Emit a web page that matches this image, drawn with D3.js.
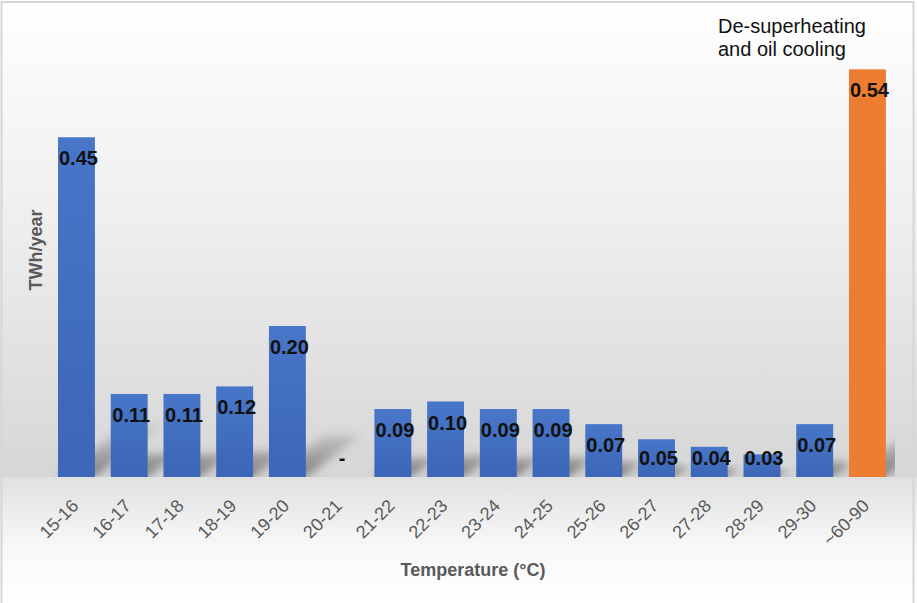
<!DOCTYPE html>
<html>
<head>
<meta charset="utf-8">
<script src="https://cdn.jsdelivr.net/npm/d3@7"></script>
<style>
  html, body { margin: 0; padding: 0; background: #ffffff; }
  svg { display: block; font-family: "Liberation Sans", Arial, sans-serif; }
</style>
</head>
<body>
<svg id="chart" width="917" height="603"></svg>
<script>
// Temperature bands (°C) and annual heat available (TWh/year)
const categories = ["15-16", "16-17", "17-18", "18-19", "19-20", "20-21", "21-22", "22-23",
                    "23-24", "24-25", "25-26", "26-27", "27-28", "28-29", "29-30", "~60-90"];
const values = [0.45, 0.11, 0.11, 0.12, 0.20, 0, 0.09, 0.10,
                0.09, 0.09, 0.07, 0.05, 0.04, 0.03, 0.07, 0.54];
const valueLabels = ["0.45", "0.11", "0.11", "0.12", "0.20", "-", "0.09", "0.10",
                     "0.09", "0.09", "0.07", "0.05", "0.04", "0.03", "0.07", "0.54"];
const highlighted = ["~60-90"];
const yTitle = "TWh/year";
const xTitle = "Temperature (°C)";
const noteLines = ["De-superheating", "and oil cooling"];

const W = 917, H = 603;
const baseY = 477;
const plotRight = 895;
const svg = d3.select("#chart");
const defs = svg.append("defs");

// Background: light fading to grey at the floor, then back to white below
const bgTop = defs.append("linearGradient").attr("id", "bgTop")
  .attr("x1", 0).attr("y1", 0).attr("x2", 0).attr("y2", 1);
bgTop.append("stop").attr("offset", "0%").attr("stop-color", "#ffffff");
bgTop.append("stop").attr("offset", "45%").attr("stop-color", "#efefef");
bgTop.append("stop").attr("offset", "100%").attr("stop-color", "#d6d6d6");

const bgBottom = defs.append("linearGradient").attr("id", "bgBottom")
  .attr("x1", 0).attr("y1", 0).attr("x2", 0).attr("y2", 1);
bgBottom.append("stop").attr("offset", "0%").attr("stop-color", "#e0e0e0");
bgBottom.append("stop").attr("offset", "55%").attr("stop-color", "#f8f8f8");
bgBottom.append("stop").attr("offset", "100%").attr("stop-color", "#ffffff");

const barGrad = defs.append("linearGradient").attr("id", "barBlue")
  .attr("x1", 0).attr("y1", 0).attr("x2", 0).attr("y2", 1);
barGrad.append("stop").attr("offset", "0%").attr("stop-color", "#4876c8");
barGrad.append("stop").attr("offset", "100%").attr("stop-color", "#3c66b7");

// Shadow fades out over a fixed height above the floor
const shadowGrad = defs.append("linearGradient").attr("id", "shadowFade")
  .attr("gradientUnits", "userSpaceOnUse")
  .attr("x1", 0).attr("y1", baseY).attr("x2", 0).attr("y2", baseY - 60);
shadowGrad.append("stop").attr("offset", "0%").attr("stop-color", "#555555").attr("stop-opacity", 0.7);
shadowGrad.append("stop").attr("offset", "100%").attr("stop-color", "#777777").attr("stop-opacity", 0);

defs.append("filter").attr("id", "soft")
  .attr("x", "-50%").attr("y", "-50%").attr("width", "200%").attr("height", "200%")
  .append("feGaussianBlur").attr("stdDeviation", 4);

defs.append("clipPath").attr("id", "plotClip")
  .append("rect").attr("x", 40).attr("y", 10).attr("width", plotRight - 40).attr("height", baseY - 10);

svg.append("rect").attr("x", 0).attr("y", 0).attr("width", W).attr("height", baseY)
  .attr("fill", "url(#bgTop)");
svg.append("rect").attr("x", 0).attr("y", baseY).attr("width", W).attr("height", H - baseY)
  .attr("fill", "url(#bgBottom)");

// Chart frame
svg.append("rect").attr("x", 1.5).attr("y", 2).attr("width", 912).attr("height", 610)
  .attr("fill", "none").attr("stroke", "#d6d6d6").attr("stroke-width", 2);

// Scales
const x = d3.scaleBand().domain(categories).range([50.1, 893.8])
  .paddingInner(0.3).paddingOuter(0.15);
const y = d3.scaleLinear().domain([0, 0.6]).range([baseY, baseY - 0.6 * 755]);

const data = categories.map((c, i) => ({ cat: c, v: values[i], label: valueLabels[i] }));

// Perspective shadows cast up and to the right behind each bar
svg.append("g").attr("clip-path", "url(#plotClip)")
  .selectAll("path").data(data.filter(d => d.v > 0)).join("path")
  .attr("d", d => {
    const x0 = x(d.cat), x1 = x0 + x.bandwidth();
    const h = baseY - y(d.v);
    const dy = h * 0.28, dx = h * 0.37;
    return `M${x0},${baseY} L${x1},${baseY} L${x1 + dx},${baseY - dy} L${x0 + dx},${baseY - dy} Z`;
  })
  .attr("fill", "url(#shadowFade)")
  .attr("filter", "url(#soft)");

// Bars
svg.append("g").selectAll("rect").data(data).join("rect")
  .attr("x", d => x(d.cat))
  .attr("width", x.bandwidth())
  .attr("y", d => y(d.v))
  .attr("height", d => baseY - y(d.v))
  .attr("fill", d => highlighted.includes(d.cat) ? "#ed7d31" : "url(#barBlue)");

// Value labels, inside the top of each bar
svg.append("g").selectAll("text").data(data).join("text")
  .attr("x", d => x(d.cat) + x.bandwidth() / 2 + 2)
  .attr("y", d => Math.min(y(d.v) + 28, 465))
  .attr("text-anchor", "middle")
  .attr("font-size", 20).attr("font-weight", "bold").attr("fill", "#111")
  .text(d => d.label);

// Category axis with rotated labels
const xAxis = svg.append("g").attr("transform", `translate(0,${baseY})`)
  .call(d3.axisBottom(x).tickSize(0).tickPadding(0));
xAxis.select(".domain").remove();
xAxis.selectAll("text")
  .attr("font-family", "'Liberation Sans', Arial, sans-serif")
  .attr("font-size", 18).attr("fill", "#595959")
  .attr("text-anchor", "end")
  .attr("dy", null)
  .attr("transform", "translate(3,30) rotate(-45)")
  .attr("x", 0).attr("y", 0);

// Axis titles
svg.append("text")
  .attr("transform", "translate(42,250) rotate(-90)")
  .attr("text-anchor", "middle")
  .attr("font-size", 18).attr("font-weight", "bold").attr("fill", "#595959")
  .text(yTitle);

svg.append("text")
  .attr("x", 473).attr("y", 576)
  .attr("text-anchor", "middle")
  .attr("font-size", 18).attr("font-weight", "bold").attr("fill", "#595959")
  .text(xTitle);

// Note above the highlighted bar
svg.append("text")
  .attr("x", 718).attr("y", 33)
  .attr("font-size", 20).attr("fill", "#111")
  .selectAll("tspan").data(noteLines).join("tspan")
  .attr("x", 718).attr("dy", (d, i) => i === 0 ? 0 : 23)
  .text(d => d);
</script>
</body>
</html>
